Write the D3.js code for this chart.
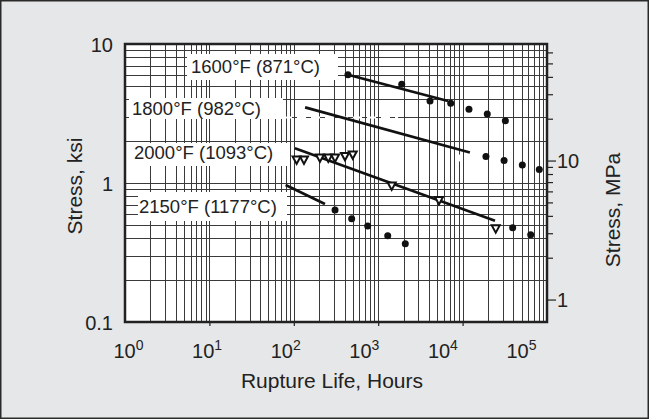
<!DOCTYPE html>
<html><head><meta charset="utf-8">
<script src="https://cdn.jsdelivr.net/npm/d3@7/dist/d3.min.js"></script>
<style>html,body{margin:0;padding:0;background:#e6e7e8;}svg{display:block;}</style>
</head><body>
<svg id="c" width="649" height="419"></svg>
<script>
// ---- data (hours, ksi) ----
const series1600Hours = [438, 1900, 4110, 7230, 11900, 19600, 32100];
const series1600Ksi   = [6.0, 5.13, 3.89, 3.74, 3.39, 3.14, 2.81];
const fit1600Hours = [438, 6710];
const fit1600Ksi   = [6.0, 3.89];

const series1800Hours = [18900, 31000, 51000, 81000];
const series1800Ksi   = [1.55, 1.45, 1.35, 1.25];
const fit1800Hours = [136, 12200];
const fit1800Ksi   = [3.50, 1.66];
const erased1800Hours = [9060];
const erased1800Ksi   = [1.51];

const series2000TriHours = [108, 132, 204, 256, 308, 404, 499, 1445, 5250, 24700];
const series2000TriKsi   = [1.46, 1.46, 1.51, 1.51, 1.51, 1.55, 1.59, 0.95, 0.746, 0.467];
const series2000DotHours = [39200, 64100];
const series2000DotKsi   = [0.477, 0.425];
const fit2000Hours = [103, 24200];
const fit2000Ksi   = [1.78, 0.535];

const series2150Hours = [308, 485, 751, 1297, 2094];
const series2150Ksi   = [0.64, 0.553, 0.491, 0.418, 0.366];
const fit2150Hours = [80, 234];
const fit2150Ksi   = [0.967, 0.706];

const labels = ["1600°F (871°C)", "1800°F (982°C)", "2000°F (1093°C)", "2150°F (1177°C)"];
const xTickExponents = [0, 1, 2, 3, 4, 5];
const yTickLabels = ["0.1", "1", "10"];
const mpaTickValues = [1, 2, 3, 4, 5, 6, 7, 8, 9, 10, 20, 30, 40, 50, 60];
const KSI_PER_MPA = 0.1450377;

// ---- layout ----
const svg = d3.select("#c");
const L = 125, R = 547, T = 44, B = 322;
const x = d3.scaleLog().domain([1, 1e5]).range([L, R]);
const xLab = d3.scaleLog().domain([1, 1e5]).range([128, 521]);
const y = d3.scaleLog().domain([0.1, 10]).range([B, T]);
const yMpa = d3.scaleLog().domain([0.1 / KSI_PER_MPA, 10 / KSI_PER_MPA]).range([B, T]);
const FONT = "'Liberation Sans', Arial, Helvetica, sans-serif";

// outer frame
svg.append("rect").attr("x", 0.75).attr("y", 0.75).attr("width", 647.5).attr("height", 417.5)
  .attr("fill", "#e6e7e8").attr("stroke", "#2a2a2a").attr("stroke-width", 1.5);

// plot background
svg.append("rect").attr("x", L).attr("y", T).attr("width", R - L).attr("height", B - T).attr("fill", "#fff");

// grid
const gridX = [];
for (let e = 0; e < 5; e++) for (let m = 2; m <= 9; m++) gridX.push(m * Math.pow(10, e));
for (let e = 1; e < 5; e++) gridX.push(Math.pow(10, e));
const gridY = [];
[0.1, 1].forEach(d => { for (let m = 2; m <= 9; m++) gridY.push(+(m * d).toFixed(2)); });
gridY.push(1);

const g = svg.append("g");
g.selectAll(".gx").data(gridX).enter().append("line")
  .attr("x1", d => Math.round(x(d)) + 0.5).attr("x2", d => Math.round(x(d)) + 0.5)
  .attr("y1", T).attr("y2", B).attr("stroke", "#3a3a3a").attr("stroke-width", 1);
g.selectAll(".gy").data(gridY).enter().append("line")
  .attr("y1", d => Math.round(y(d)) + 0.5).attr("y2", d => Math.round(y(d)) + 0.5)
  .attr("x1", L).attr("x2", R).attr("stroke", "#3a3a3a").attr("stroke-width", 1);

// label boxes
const boxes = [
  {t: labels[0], x0: 187, y0: 54, w: 151, h: 26, tx: 191, ty: 73},
  {t: labels[1], x0: 129, y0: 98, w: 154, h: 21, tx: 132, ty: 115},
  {t: labels[2], x0: 129, y0: 143, w: 158, h: 23, tx: 134, ty: 159},
  {t: labels[3], x0: 138, y0: 192, w: 149, h: 29, tx: 139, ty: 213}
];
boxes.forEach(b => {
  svg.append("rect").attr("x", b.x0).attr("y", b.y0).attr("width", b.w).attr("height", b.h).attr("fill", "#fff");
  svg.append("text").attr("x", b.tx).attr("y", b.ty).text(b.t)
    .attr("font-family", FONT).attr("font-size", 18.5).attr("fill", "#222");
});
// white dashes on 3 ksi grid line
svg.append("line").attr("x1", 283).attr("x2", 398).attr("y1", Math.round(y(3)) + 0.5).attr("y2", Math.round(y(3)) + 0.5)
  .attr("stroke", "#fff").attr("stroke-width", 2).attr("stroke-dasharray", "9,5");

// fit lines
const line = d3.line().x(d => x(d[0])).y(d => y(d[1]));
[[fit1600Hours, fit1600Ksi], [fit1800Hours, fit1800Ksi], [fit2000Hours, fit2000Ksi], [fit2150Hours, fit2150Ksi]]
  .forEach(([h, k]) => {
    svg.append("path").attr("d", line(h.map((d, i) => [d, k[i]])))
      .attr("fill", "none").attr("stroke", "#111").attr("stroke-width", 2.6);
  });

// filled circles
function dots(h, k, fill) {
  svg.append("g").selectAll("circle").data(h.map((d, i) => [d, k[i]])).enter().append("circle")
    .attr("cx", d => x(d[0])).attr("cy", d => y(d[1])).attr("r", 3.5).attr("fill", fill);
}
dots(series1600Hours, series1600Ksi, "#111");
dots(series1800Hours, series1800Ksi, "#111");
dots(series2000DotHours, series2000DotKsi, "#111");
dots(series2150Hours, series2150Ksi, "#111");
dots(erased1800Hours, erased1800Ksi, "#fff");

// inverted open triangles
svg.append("g").selectAll("path").data(series2000TriHours.map((d, i) => [d, series2000TriKsi[i]])).enter().append("path")
  .attr("transform", d => `translate(${x(d[0])},${y(d[1])})`)
  .attr("d", "M-4,-3.6L4,-3.6L0,3.8Z").attr("fill", "#fff").attr("stroke", "#111").attr("stroke-width", 2);

// border
svg.append("rect").attr("x", L).attr("y", T).attr("width", R - L).attr("height", B - T)
  .attr("fill", "none").attr("stroke", "#222").attr("stroke-width", 2.5);

// bottom ticks (decades)
svg.append("g").attr("transform", `translate(0,${B})`)
  .call(d3.axisBottom(x).tickValues(xTickExponents.slice(1, 5).map(e => Math.pow(10, e))).tickSize(4).tickFormat(""))
  .call(s => s.select(".domain").remove())
  .call(s => s.selectAll("line").attr("stroke", "#222").attr("stroke-width", 1.2));

// bottom tick labels (as positioned in the original)
const xl = svg.append("g").attr("transform", `translate(0,${B})`)
  .call(d3.axisBottom(xLab).tickValues(xTickExponents.map(e => Math.pow(10, e))).tickSize(0).tickFormat(""));
xl.select(".domain").remove();
xl.selectAll(".tick").each(function(d) {
  const e = Math.round(Math.log10(d));
  const t = d3.select(this).append("text").attr("y", 36).attr("text-anchor", "middle")
    .attr("font-family", FONT).attr("font-size", 20).attr("fill", "#222");
  t.append("tspan").text("10");
  t.append("tspan").text(e).attr("font-size", 14).attr("dy", -8);
});

// left tick labels
svg.append("g").attr("transform", `translate(${L},0)`)
  .call(d3.axisLeft(y).tickValues([0.1, 1, 10]).tickSize(0).tickPadding(12).tickFormat((d, i) => yTickLabels[i]))
  .call(s => s.select(".domain").remove())
  .call(s => s.selectAll("text").attr("font-family", FONT).attr("font-size", 20).attr("fill", "#222").attr("dy", "0.36em"));

// right MPa axis
const ra = svg.append("g").attr("transform", `translate(${R},0)`)
  .call(d3.axisRight(yMpa).tickValues(mpaTickValues).tickSize(7).tickPadding(3)
    .tickFormat(d => (d === 1 || d === 10) ? String(d) : ""));
ra.select(".domain").remove();
ra.selectAll("line").attr("stroke", "#222").attr("stroke-width", 1.2)
  .attr("x2", d => (d === 1 || d === 10) ? 9 : 6);
ra.selectAll("text").attr("font-family", FONT).attr("font-size", 20).attr("fill", "#222").attr("dy", "0.36em");

// axis titles
svg.append("text").attr("transform", "translate(82,186) rotate(-90)").attr("text-anchor", "middle")
  .attr("font-family", FONT).attr("font-size", 21).attr("fill", "#222").text("Stress, ksi");
svg.append("text").attr("transform", "translate(620,210) rotate(-90)").attr("text-anchor", "middle")
  .attr("font-family", FONT).attr("font-size", 21).attr("fill", "#222").text("Stress, MPa");
svg.append("text").attr("x", 332).attr("y", 388).attr("text-anchor", "middle")
  .attr("font-family", FONT).attr("font-size", 21).attr("fill", "#222").text("Rupture Life, Hours");
</script>
</body></html>
